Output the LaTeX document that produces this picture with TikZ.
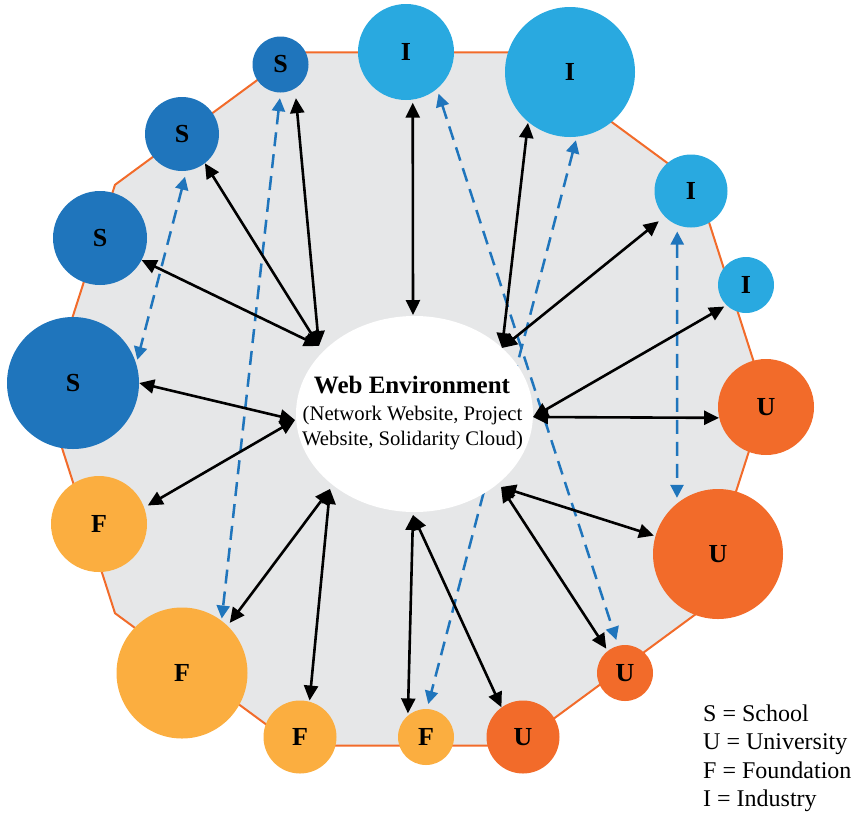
\documentclass[tikz,border=0pt]{standalone}
\usepackage{fontspec}
\setmainfont{Liberation Serif}
\usetikzlibrary{arrows.meta,shapes.geometric}
\definecolor{sblue}{HTML}{1F75BC}
\definecolor{iblue}{HTML}{29A9E0}
\definecolor{uorange}{HTML}{F26B2A}
\definecolor{fyellow}{HTML}{FBAE40}
\definecolor{polyfill}{HTML}{E6E7E8}
\definecolor{dashblue}{HTML}{1F75BC}
\pgfdeclarelayer{bglayer}
\pgfdeclarelayer{midlayer}
\pgfsetlayers{bglayer,midlayer,main}
\begin{document}
\begin{tikzpicture}[x=1pt,y=-1pt,
  org/.style={circle, inner sep=0pt, minimum size=#1, text=black,
    font=\fontsize{26}{26}\selectfont\bfseries},
  school/.style={org=#1, fill=sblue},
  industry/.style={org=#1, fill=iblue},
  univ/.style={org=#1, fill=uorange},
  found/.style={org=#1, fill=fyellow},
  bi/.style={line width=2.6pt, black,
    {Triangle[length=15pt,width=14pt]}-{Triangle[length=15pt,width=14pt]}},
  dbi/.style={dashblue, line width=2.5pt, dash pattern=on 14pt off 8pt,
    {Triangle[length=13pt,width=13pt]}-{Triangle[length=13pt,width=13pt]}},
  webtitle/.style={font=\fontsize{25}{25}\selectfont\bfseries, inner sep=0pt, anchor=base},
  websub/.style={font=\fontsize{20.7}{20.7}\selectfont, inner sep=0pt, anchor=base},
  legend/.style={font=\fontsize{24}{24}\selectfont, inner sep=0pt, anchor=base west},
]
\useasboundingbox (0,0) rectangle (864,812);

% organisations
\node[school=56pt]  (S1) at (280.5,64.5) {S};
\node[school=74pt]  (S2) at (182,134) {S};
\node[school=94pt]  (S3) at (100,238) {S};
\node[school=132pt] (S4) at (73,383) {S};
\node[found=96pt]   (F4) at (99,524) {F};
\node[found=131pt]  (F3) at (182,673) {F};
\node[found=73pt]   (F2) at (300,737) {F};
\node[found=56pt]   (F1) at (426,737) {F};
\node[univ=73pt]    (U4) at (523,737) {U};
\node[univ=56pt]    (U3) at (625,673) {U};
\node[univ=130pt]   (U2) at (718,554) {U};
\node[univ=96pt]    (U1) at (766,407) {U};
\node[industry=56pt] (I4) at (746,285) {I};
\node[industry=73pt] (I3) at (691,191) {I};
\node[industry=130pt] (I2) at (570,72) {I};
\node[industry=96pt] (I1) at (406,52) {I};

% web environment
\node[ellipse, fill=white, inner sep=0pt, minimum width=237pt, minimum height=196pt] (web) at (414.5,414) {};
\node[webtitle] (t1) at (412,393) {Web Environment};
\node[websub] (t2) at (412.5,420) {(Network Website, Project};
\node[websub] (t3) at (412.5,445) {Website, Solidarity Cloud)};

% hubs on the ellipse
\coordinate (hNW) at (319,346);
\coordinate (hN)  at (413,315);
\coordinate (hNE) at (502,348);
\coordinate (hE)  at (533,417);
\coordinate (hSE) at (501,487);
\coordinate (hS)  at (413,515);
\coordinate (hSW) at (330,489);
\coordinate (hW)  at (295,420);

% background polygon
\begin{pgfonlayer}{bglayer}
\draw[uorange, line width=2pt, fill=polyfill, line join=miter]
  (517.1,52.4) -- (294.9,52.4) -- (115.0,184.8) -- (46.3,399) -- (115.0,613.2)
  -- (294.9,745.6) -- (517.1,745.6) -- (697.0,613.2) -- (765.7,399) -- (697.0,184.8) -- cycle;
\end{pgfonlayer}

% dashed links
\begin{pgfonlayer}{midlayer}
\draw[dbi, shorten <=5.5pt, shorten >=2pt] (S1.-90) -- (F3.53.5);
\draw[dbi, shorten <=6pt, shorten >=4pt] (S2.-83) -- (S4.17);
\draw[dbi, shorten <=5pt, shorten >=6pt] (I1.-50) -- (U3.104);
\draw[dbi, shorten <=3.5pt, shorten >=5pt] (I2.-84) -- (F1.88);
\draw[dbi, shorten <=6.5pt, shorten >=5.5pt] (I3.-112) -- (U2.129);
\end{pgfonlayer}

% black links
\draw[bi, shorten >=9.5pt] (hNW) -- (S1.-59);
\draw[bi] (hNW) -- (S2.-52);
\draw[bi] (hNW) -- (S3.-28);
\draw[bi] (hW) -- (S4.0);
\draw[bi, shorten >=4pt] (hW) -- (F4.20);
\draw[bi, shorten >=3.5pt] (hSW) -- (F3.46);
\draw[bi, shorten >=1pt] (hSW) -- (F2.75);
\draw[bi, shorten >=2pt] (hS) -- (F1.130);
\draw[bi] (hS) -- (U4.126);
\draw[bi, shorten >=2.5pt] (hSE) -- (U3.128);
\draw[bi, shorten >=1.5pt] (hSE) -- (U2.164);
\draw[bi] (hE) -- (U1.193);
\draw[bi, shorten >=2.5pt] (hE) -- (I4.226);
\draw[bi, shorten >=7.5pt] (hNE) -- (I3.224);
\draw[bi, shorten >=1pt] (hNE) -- (I2.230);
\draw[bi, shorten >=3pt] (hN) -- (I1.-82);

% legend
\node[legend] (l1) at (703,721) {S = School};
\node[legend] (l2) at (703,749.5) {U = University};
\node[legend] (l3) at (703,778) {F = Foundation};
\node[legend] (l4) at (703,806) {I = Industry};
\end{tikzpicture}
\end{document}
